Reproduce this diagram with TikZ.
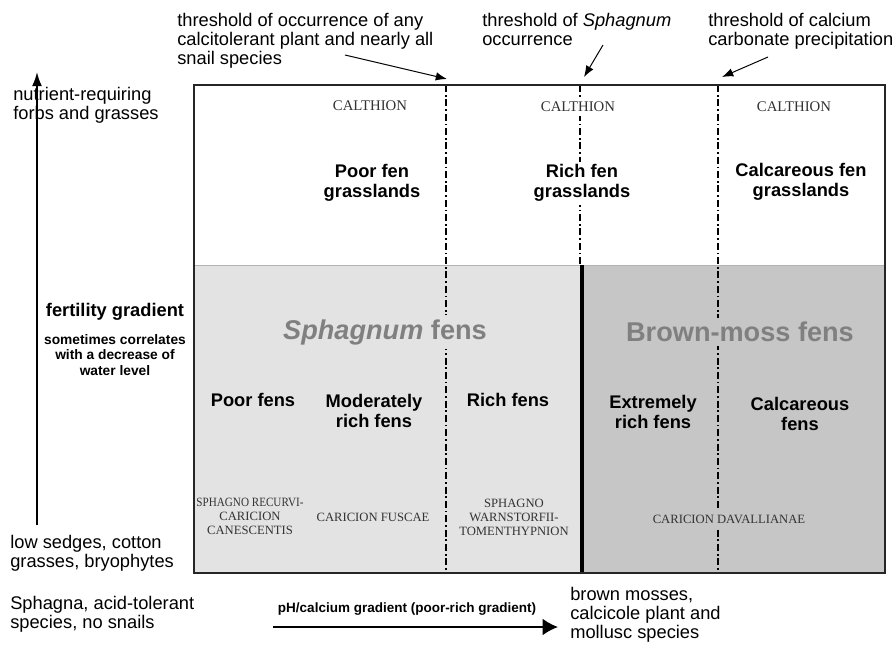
\documentclass[tikz,border=0pt]{standalone}
\usepackage{fontspec}
\setmainfont{Liberation Sans}
\newfontfamily\romanfont{Liberation Serif}
\usetikzlibrary{arrows.meta}
\tikzset {>=Stealth}
\definecolor{poorgray}{HTML}{E3E3E3}
\definecolor{richgray}{HTML}{C6C6C6}
\tikzset{
  note/.style={align=left,inner sep=0pt,font=\fontsize{13}{13.6}\selectfont},
  zone/.style={align=center,inner sep=2pt,font=\bfseries\fontsize{13}{14.4}\selectfont},
  alliance/.style={align=center,inner sep=3pt,text=black!80,font=\romanfont\fontsize{9}{10}\selectfont},
  fentype/.style={inner sep=3pt,text=black!50,font=\bfseries\fontsize{19.3}{22}\selectfont},
  threshold/.style={line width=1.2pt,dash pattern=on 5pt off 2pt on 1.2pt off 2pt},
  pointer/.style={-{Latex[length=8pt,width=6pt]},line width=0.7pt}
}

\begin{document}
\begin{tikzpicture}[x=0.025cm,y=-0.025cm]
\useasboundingbox (0,0) rectangle (896,653);
\coordinate (NW) at (194,85);
\coordinate (SE) at (885,573);

% fen panels
\fill[poorgray] (194,265) rectangle (582,573);
\fill[richgray] (582,265) rectangle (885,573);
\draw[black!30] (194,265) -- (885,265);

\draw[threshold] (446,85) coordinate (T1) -- (446,573);
\draw[threshold] (580,85) coordinate (T2) -- (580,265);
\draw[threshold] (718,85) coordinate (T3) -- (718,573);
\draw[line width=3.5pt] (582,265) -- (582,573);
\draw[line width=1.2pt,black!85] (NW) rectangle (SE);

% upper row
\node[alliance,fill=white,font=\romanfont\fontsize{10.5}{11}\selectfont] (cal1) at (370,106) {CALTHION};
\node[alliance,fill=white,font=\romanfont\fontsize{10.5}{11}\selectfont] (cal2) at (578,107) {CALTHION};
\node[alliance,fill=white,font=\romanfont\fontsize{10.5}{11}\selectfont] (cal3) at (794,107) {CALTHION};
\node[zone,fill=white] (pfg) at (372,183) {Poor fen\\grasslands};
\node[zone,fill=white] (rfg) at (582,183) {Rich fen\\grasslands};
\node[zone,fill=white] (cfg) at (801,182) {Calcareous fen\\grasslands};

% lower row
\node[fentype,fill=poorgray] (sf) at (385,332) {\textit{Sphagnum} fens};
\node[fentype,fill=richgray] (bf) at (740,332) {Brown-moss fens};
\node[zone] (pf) at (253,400) {Poor fens};
\node[zone] (mrf) at (374,411) {Moderately\\rich fens};
\node[zone] (rf) at (508,400) {Rich fens};
\node[zone] (erf) at (653,412) {Extremely\\rich fens};
\node[zone] (caf) at (800,414) {Calcareous\\fens};
\node[alliance] (src) at (250,516) {\scalebox{0.88}[1]{SPHAGNO RECURVI-}\\CARICION\\CANESCENTIS};
\node[alliance] (cf) at (373,517) {CARICION FUSCAE};
\node[alliance] (swt) at (514,517) {SPHAGNO\\WARNSTORFII-\\TOMENTHYPNION};
\node[alliance,fill=richgray] (cd) at (729,519) {CARICION DAVALLIANAE};

% thresholds
\node[note,anchor=north west] (occ) at (177,13) {threshold of occurrence of any\\calcitolerant plant and nearly all\\snail species};
\node[note,anchor=north west] (sph) at (482,13) {threshold of \textit{Sphagnum}\\occurrence};
\node[note,anchor=north west] (carb) at (708,13) {threshold of calcium\\carbonate precipitation};
\coordinate (occtail) at (345,55);
\coordinate (occtip) at (447,79);
\coordinate (sphtail) at (603,45);
\coordinate (sphtip) at (584,77);
\coordinate (carbtail) at (768,57);
\coordinate (carbtip) at (722,77);
\draw[pointer] (occtail) -- (occtip);
\draw[pointer] (sphtail) -- (sphtip);
\draw[pointer] (carbtail) -- (carbtip);

% fertility gradient
\node[note,anchor=north west] (top) at (13,87) {nutrient-requiring\\forbs and grasses};
\node[note,anchor=south west] (low) at (10,572) {low sedges, cotton\\grasses, bryophytes};
\node[font=\bfseries\fontsize{13}{14}\selectfont] (fert) at (115,312) {fertility gradient};
\node[align=center,font=\bfseries\fontsize{9.8}{10.8}\selectfont] (fertsub) at (115,355) {sometimes correlates\\with a decrease of\\water level};
\coordinate (fertbot) at (37,525);
\coordinate (fertop) at (37,72);
\draw[-{Latex[length=10pt,width=7pt]},line width=1.2pt] (fertbot) -- (fertop);

% pH gradient
\node[note,anchor=north west] (acid) at (10,596) {Sphagna, acid-tolerant\\species, no snails};
\node[note,anchor=north west] (brown) at (570,587) {brown mosses,\\calcicole plant and\\mollusc species};
\node[font=\bfseries\fontsize{9.6}{12}\selectfont] (ph) at (407,609) {pH/calcium gradient (poor-rich gradient)};
\coordinate (gradl) at (273,627);
\coordinate (gradr) at (558,627);
\draw[-{Latex[length=11pt,width=12pt]},line width=1.2pt] (gradl) -- (gradr);
\end{tikzpicture}
\end{document}
